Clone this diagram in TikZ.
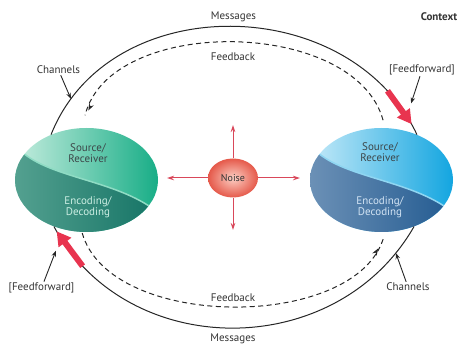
\documentclass[tikz,border=0pt]{standalone}
\usepackage{fontspec}
\setmainfont{PT Sans}
\usetikzlibrary{arrows.meta,shapes.geometric,decorations.markings}

\definecolor{mintlight}{HTML}{C6EDDF}
\definecolor{mintdark}{HTML}{17AD86}
\definecolor{tealgray}{HTML}{5AA594}
\definecolor{tealdark}{HTML}{0D6E60}
\definecolor{mintline}{HTML}{8FDCC4}
\definecolor{mintpale}{HTML}{CDEFE4}
\definecolor{skylight}{HTML}{C6EAF8}
\definecolor{skydark}{HTML}{12A5E0}
\definecolor{bluegray}{HTML}{7396BA}
\definecolor{bluedark}{HTML}{1A548C}
\definecolor{skyline}{HTML}{8FD6F2}
\definecolor{bluepale}{HTML}{D3E4F4}
\definecolor{noiselight}{HTML}{FCCFC4}
\definecolor{noisedark}{HTML}{E5594A}
\definecolor{noisered}{HTML}{D9475A}
\definecolor{ffred}{HTML}{E8344F}
\definecolor{txtgray}{HTML}{333333}
\definecolor{srctext}{HTML}{3C4548}

\tikzset{
  sphere/.style={ellipse, minimum width=143pt, minimum height=104pt, inner sep=0pt},
  lbl/.style={font=\fontsize{11}{13}\selectfont, text=txtgray, inner sep=1pt},
  intext/.style={align=center, font=\fontsize{11}{11}\selectfont, inner sep=0pt},
  msgline/.style={line width=1pt, black!85},
  fbline/.style={line width=1pt, black!85, dash pattern=on 5pt off 3.5pt},
  ptr/.style={line width=0.9pt, black!85, -{Stealth[length=6pt,width=4.5pt]}},
  ffarrow/.style={ffred, line width=6pt, -{Triangle[length=14pt,width=15pt]}},
  noisearrow/.style={noisered, line width=1pt, -{Stealth[length=7pt,width=4.5pt]}},
  fbmark/.style={postaction={decorate}, decoration={markings,
      mark=at position 0.95 with {\arrow{Stealth[length=7pt,width=5pt]}}}}
}

\begin{document}
\begin{tikzpicture}[x=1pt, y=1pt]
  \useasboundingbox (0,0) rectangle (461,345);

  % left sphere
  \node[sphere] (srcL) at (86.5,165) {};
  \begin{scope}
    \clip (86.5,165) ellipse [x radius=71.5, y radius=52];
    \shade[left color=mintlight, right color=mintdark] (14,112) rectangle (159,218);
    \shade[left color=tealgray, right color=tealdark] (18,197) .. controls (45,167) and (115,166) .. (156,134)
      -- (175,134) -- (175,100) -- (0,100) -- (0,197) -- cycle;
    \draw[line width=1.5pt, mintline] (18,197) .. controls (45,167) and (115,166) .. (156,134);
  \end{scope}
  \node[intext, text=srctext] (srcLtop) at (88,192) {Source/\\Receiver};
  \node[intext, text=mintpale] (srcLbot) at (88,137.5) {Encoding/\\Decoding};

  % right sphere
  \node[sphere] (srcR) at (381.5,165) {};
  \begin{scope}
    \clip (381.5,165) ellipse [x radius=71.5, y radius=52];
    \shade[left color=skylight, right color=skydark] (309,112) rectangle (454,218);
    \begin{scope}[shift={(295,0)}]
      \shade[left color=bluegray, right color=bluedark] (18,197) .. controls (45,167) and (115,166) .. (156,134)
        -- (175,134) -- (175,100) -- (0,100) -- (0,197) -- cycle;
      \draw[line width=1.5pt, skyline] (18,197) .. controls (45,167) and (115,166) .. (156,134);
    \end{scope}
  \end{scope}
  \node[intext, text=srctext] (srcRtop) at (380,193) {Source/\\Receiver};
  \node[intext, text=bluepale] (srcRbot) at (380,137.5) {Encoding/\\Decoding};

  % noise
  \node[ellipse, minimum width=50pt, minimum height=39pt, inner sep=0pt,
        inner color=noiselight, outer color=noisedark,
        font=\fontsize{10}{12}\selectfont, text=txtgray] (noise) at (233,167) {Noise};
  \coordinate (nW) at (167,167);
  \coordinate (nE) at (300,167);
  \coordinate (nN) at (233,220);
  \coordinate (nS) at (233,115);
  \draw[noisearrow] (noise) -- (nW);
  \draw[noisearrow] (noise) -- (nE);
  \draw[noisearrow] (noise) -- (nN);
  \draw[noisearrow] (noise) -- (nS);

  % messages
  \draw[msgline] (srcL.128) .. controls +(58,146) and +(-67,143) .. (srcR.52)
    coordinate[pos=.09] (chanTopPt) coordinate[pos=.885] (redTopA)
    coordinate[pos=.975] (redTopB) coordinate[pos=.94, xshift=8pt, yshift=7pt] (ffTopPt);
  \draw[msgline] (srcL.235) .. controls +(73,-135) and +(-78,-136) .. (srcR.305)
    coordinate[pos=.11] (redBotA) coordinate[pos=.012] (redBotB)
    coordinate[pos=.05, xshift=-10pt, yshift=-5pt] (ffBotPt) coordinate[pos=.93] (chanBotPt);

  % feedback
  \draw[fbline, fbmark, shorten <=8pt, shorten >=13pt] (srcR.86) .. controls +(-30,110) and +(28,113) .. (srcL.95);
  \draw[fbline, fbmark, shorten <=1pt, shorten >=5pt] (srcL.265) .. controls +(28,-99) and +(-28,-99) .. (srcR.274);

  % feedforward
  \draw[ffarrow] (redTopA) -- (redTopB);
  \draw[ffarrow] (redBotA) -- (redBotB);

  % labels
  \node[lbl] (msgTop) at (233.5,328) {Messages};
  \node[lbl, font=\fontsize{11}{13}\selectfont\bfseries] (context) at (439,328) {Context};
  \node[lbl] (fbTop) at (233,288) {Feedback};
  \node[lbl] (chanA) at (58.5,275) {Channels};
  \node[lbl] (ffA) at (422,275) {[Feedforward]};
  \node[lbl] (ffB) at (41.5,57) {[Feedforward]};
  \node[lbl] (fbBot) at (233,47) {Feedback};
  \node[lbl] (chanB) at (408,58) {Channels};
  \node[lbl] (msgBot) at (233,6) {Messages};

  \draw[ptr] (chanA) -- (chanTopPt);
  \draw[ptr] (chanB) -- (chanBotPt);
  \draw[ptr] (ffA) -- (ffTopPt);
  \draw[ptr] (ffB) -- (ffBotPt);
\end{tikzpicture}
\end{document}
